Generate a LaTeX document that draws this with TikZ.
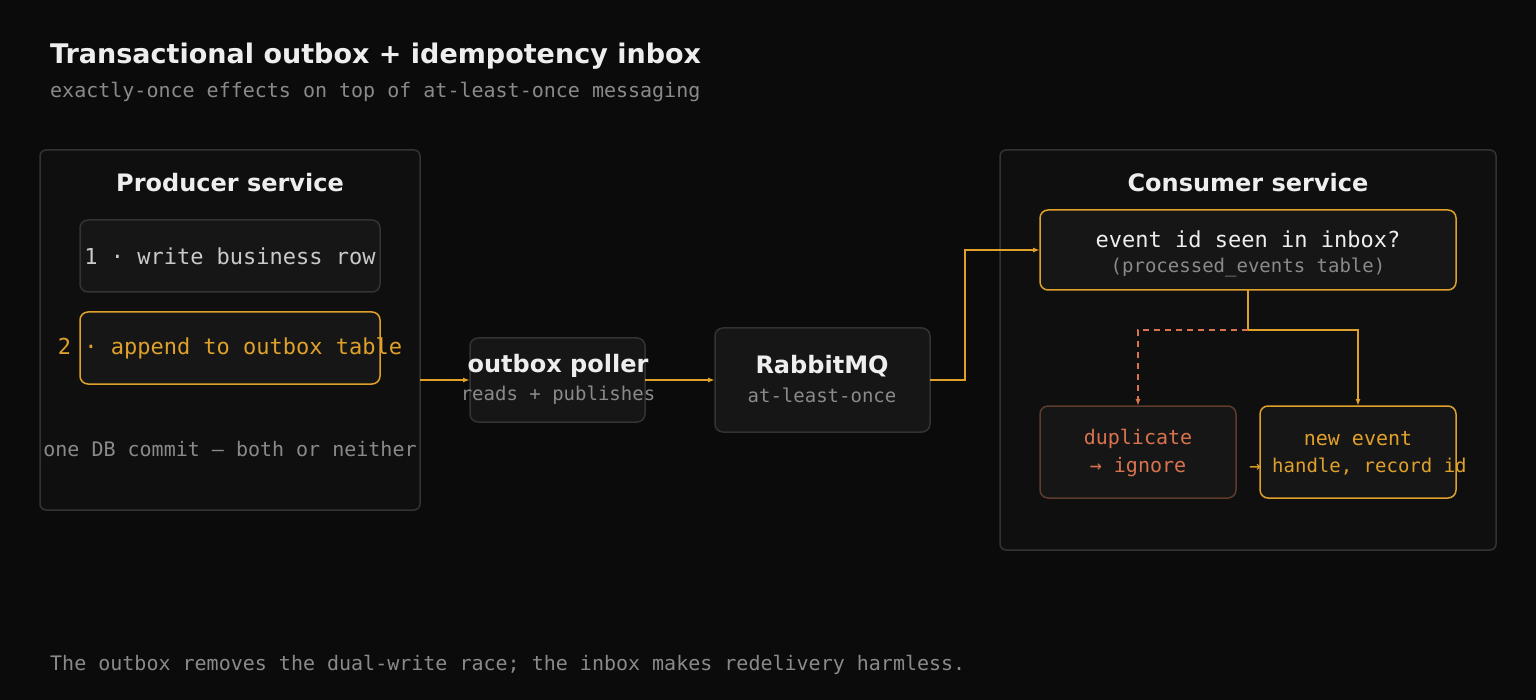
\documentclass[tikz,border=0pt]{standalone}
\usepackage{fontspec}
\setmainfont{DejaVu Sans}
\newfontfamily\mono{DejaVu Sans Mono}
\usetikzlibrary{arrows.meta}
\definecolor{bg}{HTML}{0B0B0B}
\definecolor{panel}{HTML}{0F0F0F}
\definecolor{boxf}{HTML}{161616}
\definecolor{boxs}{HTML}{333333}
\definecolor{org}{HTML}{E0A12A}
\definecolor{red}{HTML}{D9734E}
\definecolor{redb}{HTML}{5E3B2A}
\definecolor{txt}{HTML}{EEEEEE}
\definecolor{mut}{HTML}{8A8A8A}
\begin{document}
\begin{tikzpicture}[x=1pt,y=-1pt,
  panel/.style={draw=boxs,fill=panel,rounded corners=6pt,line width=1.5pt},
  box/.style={draw=boxs,fill=boxf,rounded corners=8pt,line width=1.5pt},
  head/.style={font=\fontsize{24}{28}\selectfont\bfseries,text=txt},
  m22/.style={font=\mono\fontsize{22}{26}\selectfont},
  m20/.style={font=\mono\fontsize{20}{24}\selectfont},
  m19/.style={font=\mono\fontsize{19}{23}\selectfont},
  arr/.style={draw=org,line width=2pt,-{Latex[length=7pt,width=5pt]}},
  darr/.style={draw=red,line width=2pt,dash pattern=on 6pt off 5pt,-{Latex[length=7pt,width=5pt]}}]
\fill[bg] (0,0) rectangle (1536,700);
\useasboundingbox (0,0) rectangle (1536,700);
\node[anchor=base west,font=\fontsize{27}{32}\selectfont\bfseries,text=txt,inner sep=0] (title) at (50,64) {Transactional outbox + idempotency inbox};
\node[anchor=base west,m20,text=mut,inner sep=0] (sub) at (50,98) {exactly-once effects on top of at-least-once messaging};
% producer
\draw[panel] (40,150) rectangle (420,510);
\node[head] (ph) at (230,183) {Producer service};
\draw[box] (80,220) rectangle (380,292);
\node[m22,text=txt!85!black] (r1) at (230,256) {1 · write business row};
\draw[box,draw=org] (80,312) rectangle (380,384);
\node[m22,text=org] (r2) at (230,348) {2 · append to outbox table};
\node[m20,text=mut] (db) at (230,449) {one DB commit — both or neither};
\coordinate (pout) at (420,380);
% poller
\draw[box] (470,338) rectangle (645,422);
\coordinate (polin) at (470,380);
\coordinate (polout) at (645,380);
\node[head] (pol) at (558,366) {outbox poller};
\node[m19,text=mut] (pols) at (558,395) {reads + publishes};
% rabbit
\draw[box] (715,328) rectangle (930,432);
\coordinate (rin) at (715,380);
\coordinate (rout) at (930,380);
\node[head] (rb) at (822,366) {RabbitMQ};
\node[m19,text=mut] (rbs) at (822,395) {at-least-once};
% consumer
\draw[panel] (1000,150) rectangle (1496,550);
\node[head] (ch) at (1248,183) {Consumer service};
\draw[box,draw=org] (1040,210) rectangle (1456,290);
\coordinate (iin) at (1040,250);
\coordinate (iout) at (1248,290);
\node[m22,text=txt] (q) at (1248,239) {event id seen in inbox?};
\node[m19,text=mut] (qs) at (1248,267) {(processed\_events table)};
\draw[box,draw=redb] (1040,406) rectangle (1236,498);
\coordinate (din) at (1138,406);
\node[m20,text=red] (d1) at (1138,439) {duplicate};
\node[m20,text=red] (d2) at (1138,467) {→ ignore};
\draw[box,draw=org] (1260,406) rectangle (1456,498);
\coordinate (nin) at (1358,406);
\node[m20,text=org] (n1) at (1358,439) {new event};
\node[m19,text=org] (n2) at (1358,467) {→ handle, record id};
\coordinate (split) at (1248,330);
% arrows
\draw[arr] (pout) -- (polin);
\draw[arr] (polout) -- (rin);
\draw[arr] (rout) -- (965,380) -- (965,250) -- (iin);
\draw[draw=org,line width=2pt] (iout) -- (split);
\draw[arr] (split) -- (1358,330) -- (nin);
\draw[darr] (split) -- (1138,330) -- (din);
\node[anchor=base west,m20,text=mut,inner sep=0] (foot) at (50,670) {The outbox removes the dual-write race; the inbox makes redelivery harmless.};
\end{tikzpicture}
\end{document}
